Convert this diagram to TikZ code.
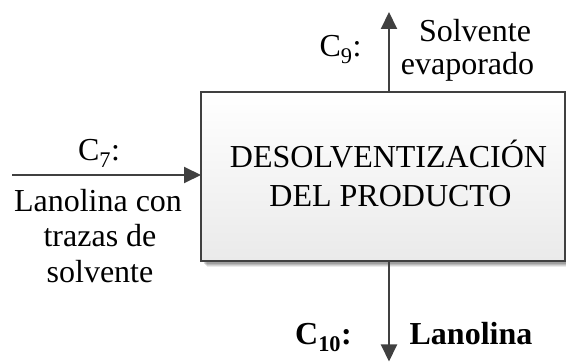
\documentclass[tikz,border=0pt]{standalone}
\usepackage{fontspec}
\setmainfont{Liberation Serif}
\usetikzlibrary{arrows.meta}
\definecolor{linegray}{HTML}{404040}
\definecolor{boxbot}{HTML}{EAEAEA}
\begin{document}
\begin{tikzpicture}[x=1pt,y=1pt,
  lbl/.style={inner sep=0pt,anchor=base,font=\fontsize{32}{35}\selectfont},
  flow/.style={draw=linegray,line width=2pt,-{Triangle[length=17pt,width=16pt]}},
  procbox/.style={draw=linegray,line width=1.6pt,top color=white,bottom color=boxbot,minimum width=364pt,minimum height=169pt,inner sep=0pt}]
\useasboundingbox (0,0) rectangle (566,362);
% shadow
\foreach \o/\op in {6/0.08,5/0.1,4/0.12,3/0.14}{
  \fill[black,opacity=\op] (201+\o,101-\o) rectangle (565+\o,270-\o);
}
\node[procbox] (box) at (383,185.5) {};
\coordinate (leftin) at (12,187);
\coordinate (boxleft) at (201,187);
\coordinate (boxtop) at (389,270);
\coordinate (topout) at (389,350);
\coordinate (boxbottom) at (389,101);
\coordinate (botout) at (389,0.5);
\draw[flow] (leftin) -- (boxleft);
\draw[flow] (boxtop) -- (topout);
\draw[flow] (boxbottom) -- (botout);
% box text
\node[lbl] (t1) at (388.5,194) {DESOLVENTIZACIÓN};
\node[lbl] (t2) at (390.5,155) {DEL PRODUCTO};
% left labels
\node[lbl] (c7) at (99,201) {C\textsubscript{7}:};
\node[lbl] (l1) at (98,150) {Lanolina con};
\node[lbl] (l2) at (100,115) {trazas de};
\node[lbl] (l3) at (100,79) {solvente};
% top labels
\node[lbl] (c9) at (340.5,305) {C\textsubscript{9}:};
\node[lbl] (s1) at (475,320) {Solvente};
\node[lbl] (s2) at (467.5,287) {evaporado};
% bottom labels
\node[lbl,font=\fontsize{32}{35}\selectfont\bfseries] (c10) at (323.5,17) {C\textsubscript{10}:};
\node[lbl,font=\fontsize{32}{35}\selectfont\bfseries] (lan) at (471,17) {Lanolina};
\end{tikzpicture}
\end{document}
